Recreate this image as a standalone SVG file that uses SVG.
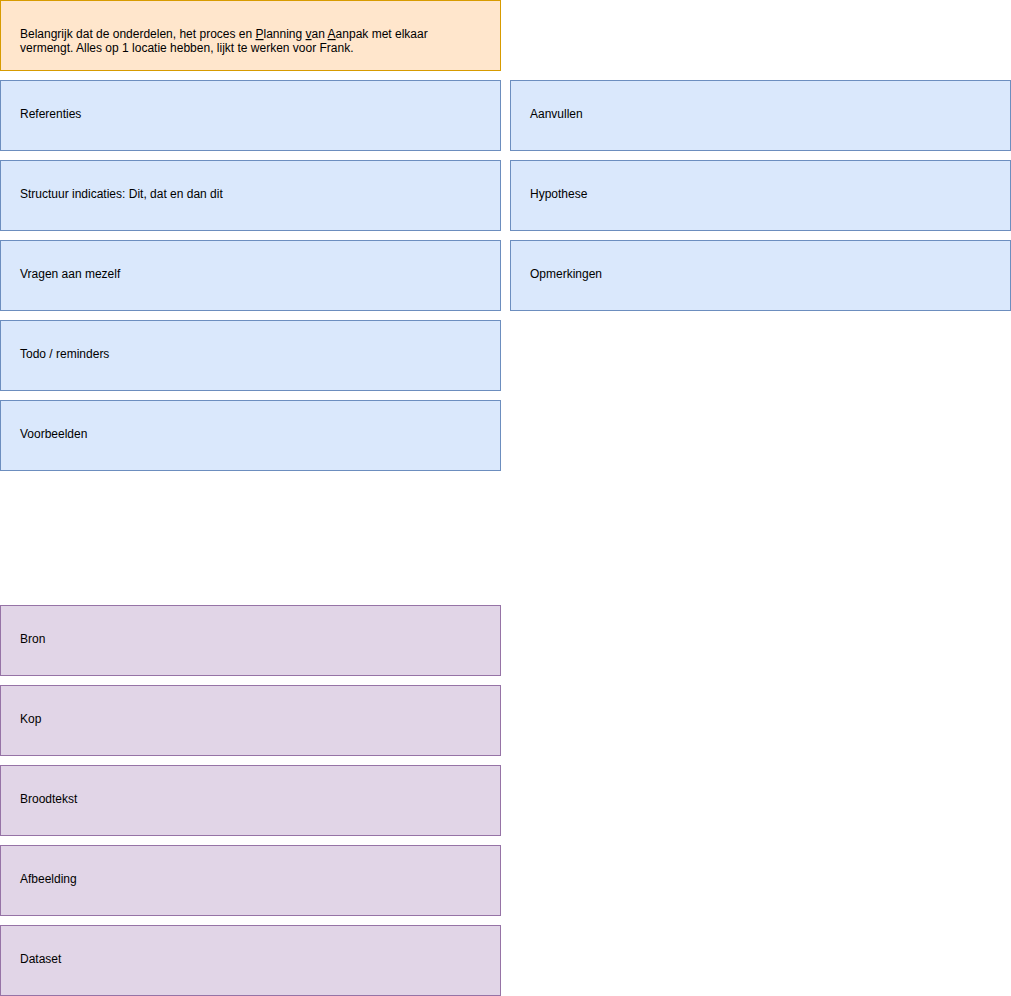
<svg xmlns="http://www.w3.org/2000/svg" width="1011" height="996" viewBox="0 0 1011 996">
<style>
rect{stroke-width:1}
.o{fill:#ffe6cc;stroke:#d79b00}
.b{fill:#dae8fc;stroke:#6c8ebf}
.p{fill:#e1d5e7;stroke:#9673a6}
text{font-family:"Liberation Sans",Arial,sans-serif;font-size:12px;fill:#000}
.u{text-decoration:underline}
</style>
<rect width="1011" height="996" fill="#fff"/>
<g id="note"><rect class="o" x="0.5" y="0.5" width="500" height="70"/><text x="20" y="38">Belangrijk dat de onderdelen, het proces en <tspan class="u">P</tspan>lanning <tspan class="u">v</tspan>an <tspan class="u">A</tspan>anpak met elkaar</text><text x="20" y="52">vermengt. Alles op 1 locatie hebben, lijkt te werken voor Frank.</text></g>
<g id="referenties"><rect class="b" x="0.5" y="80.5" width="500" height="70"/><text x="20" y="118">Referenties</text></g>
<g id="structuur"><rect class="b" x="0.5" y="160.5" width="500" height="70"/><text x="20" y="198">Structuur indicaties: Dit, dat en dan dit</text></g>
<g id="vragen"><rect class="b" x="0.5" y="240.5" width="500" height="70"/><text x="20" y="278">Vragen aan mezelf</text></g>
<g id="todo"><rect class="b" x="0.5" y="320.5" width="500" height="70"/><text x="20" y="358">Todo / reminders</text></g>
<g id="voorbeelden"><rect class="b" x="0.5" y="400.5" width="500" height="70"/><text x="20" y="438">Voorbeelden</text></g>
<g id="aanvullen"><rect class="b" x="510.5" y="80.5" width="500" height="70"/><text x="530" y="118">Aanvullen</text></g>
<g id="hypothese"><rect class="b" x="510.5" y="160.5" width="500" height="70"/><text x="530" y="198">Hypothese</text></g>
<g id="opmerkingen"><rect class="b" x="510.5" y="240.5" width="500" height="70"/><text x="530" y="278">Opmerkingen</text></g>
<g id="bron"><rect class="p" x="0.5" y="605.5" width="500" height="70"/><text x="20" y="643">Bron</text></g>
<g id="kop"><rect class="p" x="0.5" y="685.5" width="500" height="70"/><text x="20" y="723">Kop</text></g>
<g id="broodtekst"><rect class="p" x="0.5" y="765.5" width="500" height="70"/><text x="20" y="803">Broodtekst</text></g>
<g id="afbeelding"><rect class="p" x="0.5" y="845.5" width="500" height="70"/><text x="20" y="883">Afbeelding</text></g>
<g id="dataset"><rect class="p" x="0.5" y="925.5" width="500" height="70"/><text x="20" y="963">Dataset</text></g>
<g id="connectors"></g>
</svg>
